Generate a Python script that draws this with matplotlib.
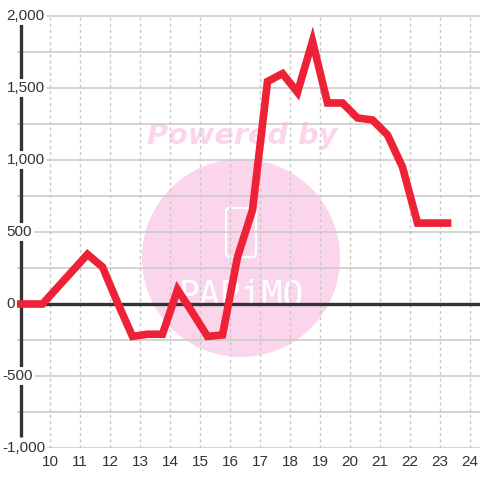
import matplotlib
matplotlib.use("Agg")
import matplotlib.pyplot as plt
from matplotlib.patches import Circle, FancyBboxPatch

# ---- data ----
hours = [8.75, 9.25, 9.75, 10.25, 10.75, 11.25, 11.75, 12.25, 12.75, 13.25,
         13.75, 14.25, 14.75, 15.25, 15.75, 16.25, 16.75, 17.25, 17.75, 18.25,
         18.75, 19.25, 19.75, 20.25, 20.75, 21.25, 21.75, 22.25, 22.75, 23.25]
values = [0, 0, 0, 115, 230, 345, 257, 10, -225, -210,
          -210, 100, -60, -225, -215, 326, 653, 1545, 1600, 1470,
          1825, 1396, 1396, 1292, 1278, 1174, 951, 562, 562, 562]
x_ticks = list(range(10, 25))
y_ticks = [2000, 1500, 1000, 500, 0, -500, -1000]
y_labels = ["2,000", "1,500", "1,000", "500", "0", "-500", "-1,000"]
y_grid = list(range(-1000, 2001, 250))

plt.rcParams['font.family'] = ['Liberation Sans', 'DejaVu Sans']

W = H = 480
fig = plt.figure(figsize=(4.8, 4.8), dpi=100)
fig.patch.set_facecolor('white')

# axes area: x pixel 17..480, y pixel 0..448
ax = fig.add_axes([17 / W, (H - 448) / H, 1 - 17 / W, 448 / H])
ax.set_xlim(8.9, 24.333)
ax.set_ylim(-1000, 2000 + 16 / 0.144)
ax.patch.set_alpha(0)
for s in ax.spines.values():
    s.set_visible(False)
ax.set_xticks([])
ax.set_yticks([])

# watermark (figure coords, under the axes)
pink = '#fbd5eb'
fig.add_artist(Circle((241 / W, 1 - 258 / H), 99 / W, transform=fig.transFigure,
                      facecolor=pink, edgecolor='none', zorder=-2))
fig.text(242 / W, 1 - 144 / H, "Powered by", ha='center', va='baseline',
         fontsize=20.7, fontweight='heavy', fontstyle='italic', color=pink,
         family='DejaVu Sans', zorder=-2)
fig.add_artist(FancyBboxPatch((226 / W, 1 - 257 / H), 30 / W, 49 / H,
                              boxstyle='round,pad=0,rounding_size=0.008',
                              transform=fig.transFigure, facecolor='none',
                              edgecolor='white', linewidth=1.6, zorder=-1))
fig.text(241 / W, 1 - 306 / H, "PAPiMO", ha='center', va='baseline',
         fontsize=25, color='white', family='DejaVu Sans Mono', zorder=-1)

# grid
ax.hlines(y_grid, 8.9, 24.333, colors='#cccccc', linewidth=1.2, zorder=1)
ax.vlines(x_ticks, -1000, 2000, colors='#c8c8c8', linewidth=1,
          linestyles=(0, (2.2, 2.2)), zorder=1)

# zero line and left axis line
ax.axhline(0, color='#333333', linewidth=2.4, zorder=2)
ax.vlines([9.033], -925, 1945, colors='#333333', linewidth=2.4, zorder=2)

# series
ax.plot(hours, values, color='#ee2236', linewidth=5.5, solid_joinstyle='miter',
        solid_capstyle='projecting', zorder=3)

# y labels (white background boxes)
for v, lab in zip(y_ticks, y_labels):
    xpix = 2 if lab.startswith('-') else 6.5
    ax.text(8.9 + (xpix - 17) / 30, v, lab, ha='left', va='center',
            fontsize=11, color='#333333', clip_on=False, zorder=4,
            bbox=dict(boxstyle='square,pad=0.15', fc='white', ec='none'))

# x labels
for h in x_ticks:
    ax.text(h, -1000 - 7 / 0.144, str(h), ha='center', va='top', fontsize=11,
            color='#333333', clip_on=False, zorder=4)

fig.savefig('out.png', dpi=100)
